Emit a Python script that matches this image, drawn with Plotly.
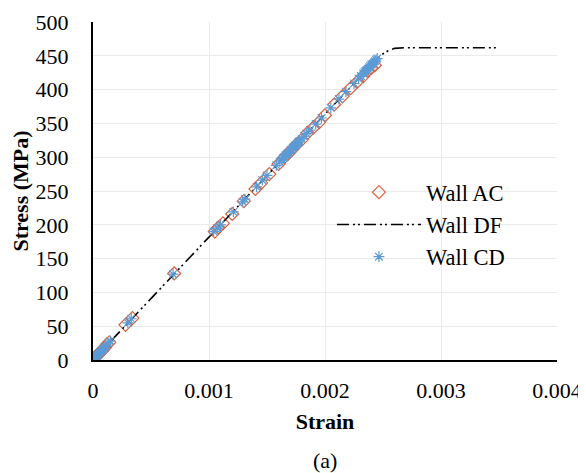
import plotly.graph_objects as go

# ---- data ----
ac_strain = [0.00000, 0.00001, 0.00002, 0.00003, 0.00004, 0.00005, 0.00006, 0.00008, 0.00010, 0.00012,
             0.00014, 0.00028, 0.00034, 0.00070, 0.00105, 0.00108, 0.00112, 0.00120, 0.00130, 0.00140,
             0.00145, 0.00152, 0.00160, 0.00165, 0.00168, 0.00172, 0.00175, 0.00180, 0.00185, 0.00190,
             0.00195, 0.00200, 0.00208, 0.00215, 0.00222, 0.00228, 0.00233, 0.00237, 0.00240, 0.00243]
ac_stress = [1, 3, 4, 6, 8, 9, 11, 14, 18, 23,
             26, 52, 62, 128, 190, 196, 202, 216, 235, 253,
             262, 275, 290, 300, 305, 312, 318, 326, 336, 344,
             352, 362, 378, 390, 402, 412, 420, 428, 432, 436]

df_strain = [0.0, 0.00248, 0.00254, 0.00260, 0.00270, 0.00350]
df_stress = [0, 451, 457, 461, 462, 462]

cd_strain = [0.00000, 0.00001, 0.00002, 0.00002, 0.00003, 0.00004, 0.00005, 0.00006, 0.00007, 0.00008,
             0.00009, 0.00010, 0.00011, 0.00013, 0.00015, 0.00030, 0.00033, 0.00069, 0.00104, 0.00107,
             0.00110, 0.00121, 0.00129, 0.00131, 0.00141, 0.00146, 0.00150, 0.00158, 0.00161, 0.00163,
             0.00164, 0.00165, 0.00166, 0.00167, 0.00168, 0.00169, 0.00170, 0.00171, 0.00172, 0.00173,
             0.00174, 0.00175, 0.00176, 0.00177, 0.00178, 0.00180, 0.00182, 0.00184, 0.00187, 0.00192,
             0.00197, 0.00205, 0.00212, 0.00218, 0.00225, 0.00229, 0.00231, 0.00233, 0.00234, 0.00235,
             0.00236, 0.00237, 0.00238, 0.00239, 0.00240, 0.00241, 0.00242, 0.00243, 0.00244, 0.00245]
cd_stress = [0, 2, 4, 3, 6, 7, 9, 11, 13, 15,
             16, 18, 20, 24, 28, 55, 61, 127, 190, 195,
             200, 219, 234, 238, 256, 266, 273, 288, 293, 296,
             299, 300, 303, 304, 306, 307, 310, 311, 313, 315,
             317, 318, 320, 322, 324, 327, 331, 335, 340, 349,
             358, 373, 386, 397, 409, 416, 420, 424, 426, 428,
             429, 431, 433, 435, 437, 438, 440, 442, 444, 446]

x_ticks = [0, 0.001, 0.002, 0.003, 0.004]
x_ticktext = ["0", "0.001", "0.002", "0.003", "0.004"]
y_ticks = [0, 50, 100, 150, 200, 250, 300, 350, 400, 450, 500]

FONT = "Liberation Serif, Times New Roman, serif"

fig = go.Figure()
fig.add_trace(go.Scatter(
    x=ac_strain, y=ac_stress, mode="markers", name="Wall AC",
    marker=dict(symbol="diamond-open", size=10, color="#E0603C", line=dict(width=1.2)),
))
fig.add_trace(go.Scatter(
    x=df_strain, y=df_stress, mode="lines", name="Wall DF",
    line=dict(color="black", width=1.6, dash="12px,4px,2px,3px,2px,4px"),
))
fig.add_trace(go.Scatter(
    x=cd_strain, y=cd_stress, mode="markers", name="Wall CD",
    marker=dict(symbol="asterisk-open", size=9, color="#5B9BD5", line=dict(width=1.2, color="#5B9BD5")),
))

# the page body adds an 8px offset, so the figure is sized 8px smaller
fig.update_layout(
    width=578, height=465,
    margin=dict(l=85, r=29, t=14, b=113),
    paper_bgcolor="white", plot_bgcolor="white",
    font=dict(family=FONT, size=22, color="black"),
    showlegend=True,
    legend=dict(x=0.515, y=0.559, xanchor="left", yanchor="top",
                bgcolor="rgba(0,0,0,0)", font=dict(size=22.5, family=FONT),
                itemwidth=84, tracegroupgap=0),
    xaxis=dict(range=[0, 0.004], tickvals=x_ticks, ticktext=x_ticktext,
               showgrid=True, gridcolor="#EBEBEB", gridwidth=1,
               showline=True, linecolor="black", linewidth=2.2,
               zeroline=False, ticks="", ticklabelstandoff=9, automargin=False,
               tickfont=dict(size=22, family=FONT),
               title=dict(text="<b>Strain</b>", font=dict(size=22, family=FONT), standoff=12)),
    yaxis=dict(range=[0, 500], tickvals=y_ticks,
               showgrid=True, gridcolor="#EBEBEB", gridwidth=1,
               showline=True, linecolor="black", linewidth=2.2,
               zeroline=False, ticks="", ticklabelstandoff=18, automargin=False,
               tickfont=dict(size=22, family=FONT),
               title=dict(text="<b>Stress (MPa)</b>", font=dict(size=22, family=FONT), standoff=8)),
    annotations=[dict(text="(a)", x=0.5, xref="paper", y=-(460 - 360) / 338, yref="paper",
                      yanchor="middle", showarrow=False, font=dict(size=22, family=FONT))],
)

fig.write_html("out.html")
